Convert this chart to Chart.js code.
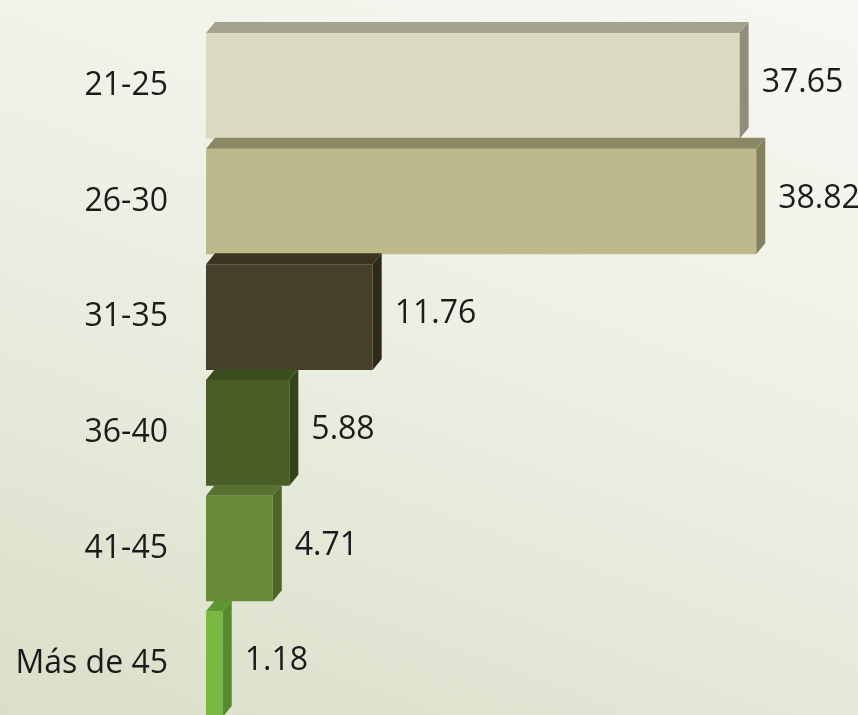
<!DOCTYPE html>
<html>
<head>
<meta charset="utf-8">
<script src="https://cdn.jsdelivr.net/npm/chart.js@4.4.0/dist/chart.umd.min.js"></script>
<style>
html,body{margin:0;padding:0;overflow:hidden;}
body{
width:858px;height:715px;
background:linear-gradient(20deg,#d9dfc8 0%,#e6eadb 35%,#f1f3ea 70%,#f6f7f1 100%);
}
#wrap{width:858px;height:722px;position:relative;}
</style>
</head>
<body>
<div id="wrap"><canvas id="barChart"></canvas></div>
<script>

// DATA

const categories=["21-25","26-30","31-35","36-40","41-45","Más de 45"];
const values=[37.65,38.82,11.76,5.88,4.71,1.18];

// front / top / side colours of each bar
const frontColors=["#dbdac1","#bdb98d","#463f29","#4a5d27","#6a8a37","#78b841"];
const topColors=["#a2a28f","#8b8866","#3a3421","#3c4d1f","#587331","#5f9631"];
const sideColors=["#8e8e7b","#85825f","#2e2a1a","#33421a","#4b6428","#568a2c"];

const DX=9;
const DY=11;

// 3D faces + value labels
const threeD={
id:"threeD",
afterDatasetsDraw(chart){
const ctx=chart.ctx;
const meta=chart.getDatasetMeta(0);
ctx.save();
meta.data.forEach((bar,i)=>{
const p=bar.getProps(["x","y","base","height"],true);
const left=p.base;
const right=p.x;
const top=p.y-p.height/2;
const bottom=p.y+p.height/2;

// top face
ctx.fillStyle=topColors[i];
ctx.beginPath();
ctx.moveTo(left,top);
ctx.lineTo(right,top);
ctx.lineTo(right+DX,top-DY);
ctx.lineTo(left+DX,top-DY);
ctx.closePath();
ctx.fill();

// side face
ctx.fillStyle=sideColors[i];
ctx.beginPath();
ctx.moveTo(right,top);
ctx.lineTo(right+DX,top-DY);
ctx.lineTo(right+DX,bottom-DY);
ctx.lineTo(right,bottom);
ctx.closePath();
ctx.fill();

// value label
ctx.fillStyle="#1b1b1b";
ctx.font="32px 'Open Sans'";
ctx.textAlign="left";
ctx.textBaseline="middle";
ctx.fillText(values[i].toFixed(2),right+DX+13,p.y-3);
});
ctx.restore();
}
};

const barCtx=document.getElementById("barChart");

new Chart(barCtx,{
type:"bar",
data:{
labels:categories,
datasets:[{
data:values,
backgroundColor:frontColors,
borderWidth:0,
barPercentage:0.913,
categoryPercentage:1
}]
},
options:{
indexAxis:"y",
responsive:true,
maintainAspectRatio:false,
animation:false,
layout:{padding:{top:28,bottom:0,left:0,right:0}},
plugins:{
legend:{display:false},
tooltip:{enabled:false}
},
scales:{
x:{
display:false,
min:0,
max:46
},
y:{
grid:{display:false,drawTicks:false},
border:{display:false},
afterFit(s){
s.width=206;
s.paddingTop=0;
s.paddingBottom=0;
},
ticks:{
padding:38,
color:"#1b1b1b",
font:{family:"'Open Sans'",size:32}
}
}
}
},
plugins:[threeD]
});

</script>
</body>
</html>
